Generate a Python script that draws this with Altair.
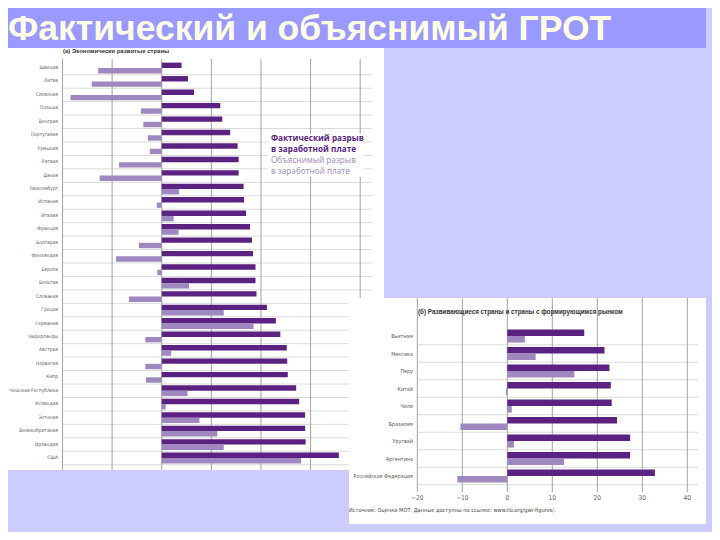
import altair as alt
import pandas as pd

# ---------------- data ----------------
countries_a = ["Швеция", "Литва", "Словения", "Польша", "Венгрия", "Португалия",
               "Румыния", "Латвия", "Дания", "Люксембург", "Испания", "Италия",
               "Франция", "Болгария", "Финляндия", "Европа", "Бельгия", "Словакия",
               "Греция", "Германия", "Нидерланды", "Австрия", "Норвегия", "Кипр",
               "Чешская Республика", "Исландия", "Эстония", "Великобритания",
               "Ирландия", "США"]
actual_a = [4.0, 5.3, 6.5, 11.8, 12.2, 13.8, 15.3, 15.5, 15.5, 16.5, 16.6, 17.0,
            17.8, 18.2, 18.4, 18.9, 18.9, 19.1, 21.2, 23.0, 23.9, 25.2, 25.3, 25.4,
            27.1, 27.7, 28.9, 28.9, 29.0, 35.7]
explained_a = [-12.8, -14.1, -18.4, -4.2, -3.7, -2.8, -2.4, -8.6, -12.5, 3.5, -1.0,
               2.4, 3.4, -4.6, -9.2, -0.9, 5.5, -6.6, 12.5, 18.5, -3.3, 1.9, -3.3,
               -3.2, 5.2, 0.8, 7.6, 11.2, 12.5, 28.1]

countries_b = ["Вьетнам", "Мексика", "Перу", "Китай", "Чили", "Бразилия",
               "Уругвай", "Аргентина", "Российская Федерация"]
actual_b = [17.1, 21.6, 22.7, 23.0, 23.2, 24.4, 27.3, 27.3, 32.8]
explained_b = [3.9, 6.3, 14.9, -0.3, 1.0, -10.4, 1.5, 12.6, -11.1]

ticks = [-20, -10, 0, 10, 20, 30, 40]
tick_labels = ["−20", "−10", "0", "10", "20", "30", "40"]

slide_title = "Фактический и объяснимый ГРОТ"
title_a = "(а) Экономически развитые страны"
title_b = "(б) Развивающиеся страны и страны с формирующимся рынком"
legend_lines = ["Фактический разрыв", "в заработной плате",
                "Объяснимый разрыв", "в заработной плате"]
source_text = "Источник: Оценки МОТ. Данные доступны по ссылке: www.ilo.org/gwr-figures/."

# ---------------- style ----------------
BG = "#CCCCFF"
BAND = "#9999FF"
DARK = "#5B2281"
LIGHT = "#9E88BF"
GRID = "#A3A3A3"
SEP = "#DADADA"
LBL = "#5A5A5A"
SMALL_FONT = "Liberation Sans Narrow, DejaVu Sans Condensed, Liberation Sans, sans-serif"

df_a = pd.DataFrame({"country": countries_a, "actual": actual_a, "explained": explained_a})
df_b = pd.DataFrame({"country": countries_b, "actual": actual_b, "explained": explained_b})
df_ticks = pd.DataFrame({"t": ticks, "label": tick_labels})
one = pd.DataFrame({"k": [0]})

xa = alt.Scale(domain=[-20, 40], range=[54.5, 352.2], nice=False)
ya = alt.Scale(domain=countries_a, range=[53.3, 456.7], paddingInner=0, paddingOuter=0)
xb = alt.Scale(domain=[-20, 40], range=[409.3, 679.3], nice=False)
yb = alt.Scale(domain=countries_b, range=[319.25, 476.75], paddingInner=0, paddingOuter=0)


def rect(x1, x2, y1, y2, color):
    return alt.Chart(one).mark_rect(color=color).encode(
        x=alt.value(x1), x2=alt.value(x2), y=alt.value(y1), y2=alt.value(y2))


def label(text, x, y, size, color, weight="normal", font="Liberation Sans", align="left"):
    return alt.Chart(one).mark_text(
        text=text, align=align, baseline="middle", fontSize=size, color=color,
        fontWeight=weight, font=font).encode(x=alt.value(x), y=alt.value(y))


layers = []
# slide background pieces
layers.append(rect(0, 698, 0, 40, BAND))
layers.append(alt.Chart(one).mark_text(
    text=slide_title, align="left", baseline="alphabetic", fontSize=35.5,
    fontWeight="bold", font="Liberation Sans", color="#FFFDE6").encode(
    x=alt.value(0), y=alt.value(31.5)))
layers.append(rect(0, 376, 40, 462, "white"))

# ----- left chart (a) -----
layers.append(alt.Chart(df_a).mark_rule(color=SEP, strokeWidth=1, yOffset=6.72).encode(
    y=alt.Y("country:N", scale=ya, axis=None, sort=countries_a),
    x=alt.value(55), x2=alt.value(364)))
layers.append(alt.Chart(df_ticks).mark_rule(color=GRID, strokeWidth=1).encode(
    x=alt.X("t:Q", scale=xa, axis=None), y=alt.value(51), y2=alt.value(462)))
layers.append(alt.Chart(df_a).mark_bar(color=DARK, height=5.4, yOffset=-2.7).encode(
    y=alt.Y("country:N", scale=ya, axis=None, sort=countries_a),
    x=alt.X("actual:Q", scale=xa, axis=None)))
layers.append(alt.Chart(df_a).mark_bar(color=LIGHT, height=5.4, yOffset=2.7).encode(
    y=alt.Y("country:N", scale=ya, axis=None, sort=countries_a),
    x=alt.X("explained:Q", scale=xa, axis=None)))
layers.append(alt.Chart(df_a).mark_text(
    align="right", baseline="middle", fontSize=4.9, color=LBL, font=SMALL_FONT).encode(
    y=alt.Y("country:N", scale=ya, axis=None, sort=countries_a),
    x=alt.value(50), text="country:N"))
layers.append(label(title_a, 55, 42.5, 6.0, "#333333", weight="bold"))

# legend box
layers.append(rect(260, 355, 126, 169, "white"))
leg_colors = [DARK, DARK, LIGHT, LIGHT]
leg_weights = ["bold", "bold", "normal", "normal"]
leg_y = [131.3, 142, 152.7, 164]
for i in range(4):
    layers.append(label(legend_lines[i], 263, leg_y[i], 8.2, leg_colors[i],
                        weight=leg_weights[i], font="Open Sans"))

# ----- right chart (b) -----
layers.append(rect(341, 698, 290, 516, "white"))
layers.append(alt.Chart(df_b).mark_rule(color=SEP, strokeWidth=1, yOffset=8.75).encode(
    y=alt.Y("country:N", scale=yb, axis=None, sort=countries_b),
    x=alt.value(409), x2=alt.value(690)))
layers.append(alt.Chart(df_ticks).mark_rule(color=GRID, strokeWidth=1).encode(
    x=alt.X("t:Q", scale=xb, axis=None), y=alt.value(290), y2=alt.value(484)))
layers.append(alt.Chart(df_b).mark_bar(color=DARK, height=6.6, yOffset=-3.3).encode(
    y=alt.Y("country:N", scale=yb, axis=None, sort=countries_b),
    x=alt.X("actual:Q", scale=xb, axis=None)))
layers.append(alt.Chart(df_b).mark_bar(color=LIGHT, height=6.6, yOffset=3.3).encode(
    y=alt.Y("country:N", scale=yb, axis=None, sort=countries_b),
    x=alt.X("explained:Q", scale=xb, axis=None)))
layers.append(alt.Chart(df_b).mark_text(
    align="right", baseline="middle", fontSize=5.4, color=LBL, font=SMALL_FONT).encode(
    y=alt.Y("country:N", scale=yb, axis=None, sort=countries_b),
    x=alt.value(405), text="country:N"))
layers.append(alt.Chart(df_ticks).mark_text(
    align="center", baseline="middle", fontSize=6.5, color=LBL, font=SMALL_FONT).encode(
    x=alt.X("t:Q", scale=xb, axis=None), y=alt.value(489.5), text="label:N"))
layers.append(label(title_b, 410, 304, 6.3, "#333333", weight="bold"))
layers.append(label(source_text, 341, 502, 5.6, "#444444", font=SMALL_FONT))

chart = alt.layer(*layers).resolve_scale(x="independent", y="independent").properties(
    width=704, height=524, background=BG, padding=0, autosize="none"
).configure_view(stroke=None)

chart.save("out.html", embed_options={"renderer": "svg", "actions": False})
